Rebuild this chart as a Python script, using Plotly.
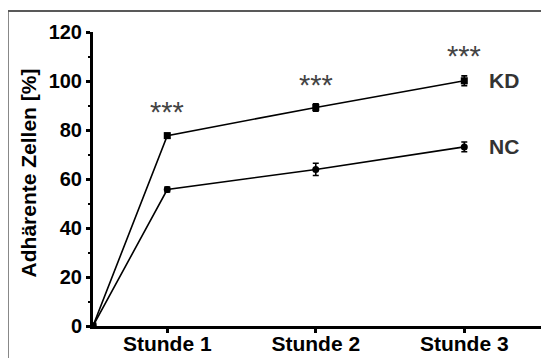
import plotly.graph_objects as go

categories = ["", "Stunde 1", "Stunde 2", "Stunde 3"]
x_pos = [0.5, 1, 2, 3]
kd_values = [0, 77.7, 89.2, 100.1]
kd_err = [0, 1.0, 1.5, 2.0]
nc_values = [0, 55.7, 63.9, 73.1]
nc_err = [0, 1.0, 2.5, 2.0]
sig_labels = ["***", "***", "***"]
sig_y = [87.2, 98.5, 110.1]
y_ticks = [0, 20, 40, 60, 80, 100, 120]

FONT = "Liberation Sans, Arial, sans-serif"

fig = go.Figure()
fig.add_trace(go.Scatter(
    x=x_pos, y=kd_values, mode="lines+markers",
    line=dict(color="black", width=1.6),
    marker=dict(symbol="square", size=7, color="black"),
    error_y=dict(type="data", array=kd_err, color="black", thickness=1.6, width=3),
    showlegend=False))
fig.add_trace(go.Scatter(
    x=x_pos, y=nc_values, mode="lines+markers",
    line=dict(color="black", width=1.6),
    marker=dict(symbol="circle", size=7, color="black"),
    error_y=dict(type="data", array=nc_err, color="black", thickness=1.6, width=3),
    showlegend=False))

for xp, lab, yv in zip(x_pos[1:], sig_labels, sig_y):
    fig.add_annotation(x=xp, y=yv, text=lab, showarrow=False,
                       font=dict(family=FONT, size=29, color="#444444"))

fig.add_annotation(x=3, y=kd_values[-1], xshift=40, text="<b>KD</b>", showarrow=False,
                   font=dict(family=FONT, size=21, color="#333333"))
fig.add_annotation(x=3, y=nc_values[-1], xshift=40, text="<b>NC</b>", showarrow=False,
                   font=dict(family=FONT, size=21, color="#333333"))

# y-axis title
fig.add_annotation(xref="paper", yref="paper", x=-0.1444, y=0.519, textangle=-90,
                   xanchor="center", yanchor="middle",
                   text="<b>Adhärente Zellen [%]</b>", showarrow=False,
                   font=dict(family=FONT, size=21, color="black"))

# frame lines (top and left edges of the image)
fig.add_shape(type="line", xref="paper", yref="paper", x0=-0.189, x1=1.05, y0=1.0714, y1=1.0714,
              line=dict(color="#222222", width=1.5))
fig.add_shape(type="line", xref="paper", yref="paper", x0=-0.189, x1=-0.189, y0=1.0714, y1=-0.15,
              line=dict(color="#555555", width=1.5))

fig.update_xaxes(
    range=[0.5, 3.53], tickvals=x_pos[1:], ticktext=["<b>%s</b>" % c for c in categories[1:]],
    showline=True, linecolor="black", linewidth=3, ticks="outside", ticklen=4, tickwidth=3,
    tickcolor="black", showgrid=False, zeroline=False, automargin=False,
    ticklabelstandoff=-7,
    tickfont=dict(family=FONT, size=21, color="black"))
fig.update_yaxes(
    range=[0, 120], tickvals=y_ticks, ticktext=["<b>%d</b>" % v for v in y_ticks],
    showline=True, linecolor="black", linewidth=3, ticks="outside", ticklen=4, tickwidth=3,
    tickcolor="black", showgrid=False, zeroline=False, automargin=False,
    minor=dict(tickvals=[10, 30, 50, 70, 90, 110], ticks="outside", ticklen=2, tickwidth=2,
               tickcolor="black"),
    tickfont=dict(family=FONT, size=20, color="black"))

# page body has an 8px margin, so the figure is sized to fit the 549x358 window
fig.update_layout(width=541, height=350, margin=dict(l=85, r=6, t=24, b=32),
                  plot_bgcolor="white", paper_bgcolor="white")
fig.write_html("out.html")
